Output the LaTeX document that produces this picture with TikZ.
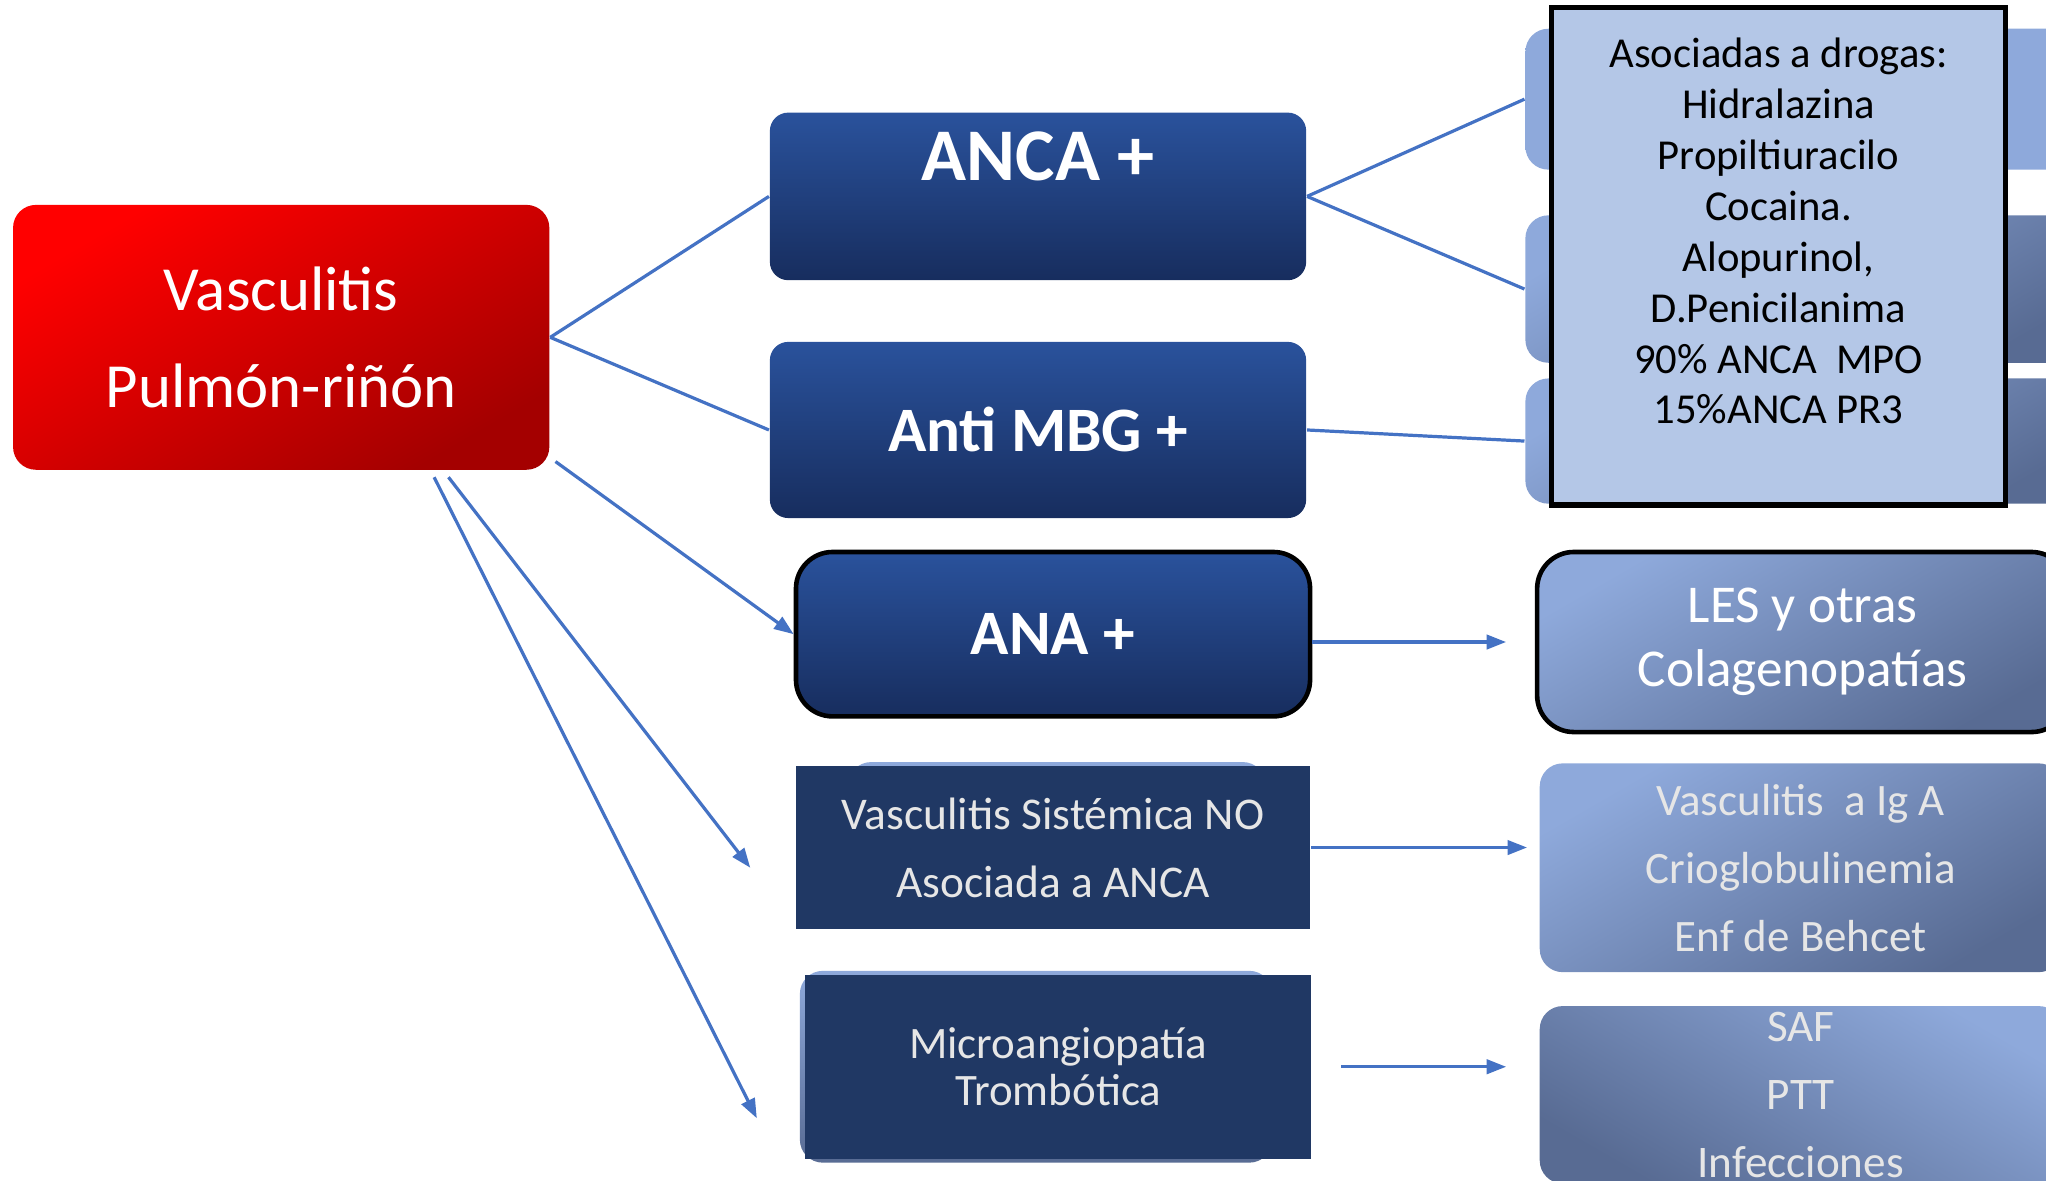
\documentclass[tikz,border=0pt]{standalone}
\usepackage{fontspec}
\setmainfont{Carlito}
\usetikzlibrary{arrows.meta,positioning}

\definecolor{rootred}{HTML}{FF0000}
\definecolor{rootdark}{HTML}{A40000}
\definecolor{antitop}{HTML}{2A529C}
\definecolor{antibot}{HTML}{172D5E}
\definecolor{navy}{HTML}{203864}
\definecolor{paletext}{HTML}{E6E6E6}
\definecolor{ghosttop}{HTML}{8EA9DB}
\definecolor{ghostbot}{HTML}{586B93}
\definecolor{drugfill}{HTML}{B4C7E7}
\definecolor{linkblue}{HTML}{4472C4}

\begin{document}
\begin{tikzpicture}[
  font=\fontsize{9pt}{11pt}\selectfont,
  rootbox/.style={rounded corners=5pt,top color=rootred,bottom color=rootdark,
                  shading angle=30,minimum width=4.11cm,minimum height=2.03cm,
                  align=center,text=white,font=\fontsize{13.7pt}{21.3pt}\selectfont},
  antibox/.style={rounded corners=4pt,top color=antitop,bottom color=antibot,
                  minimum width=4.11cm,align=center,text=white,
                  font=\bfseries\fontsize{13.8pt}{17pt}\selectfont},
  darkbox/.style={fill=navy,minimum width=3.94cm,align=center,text=paletext,
                  font=\fontsize{9.9pt}{14.8pt}\selectfont},
  ghost/.style={rounded corners=5pt,top color=ghosttop,bottom color=ghostbot},
  greybox/.style={rounded corners=5pt,top color=ghosttop,bottom color=ghostbot,
                  shading angle=30,minimum width=4cm,align=center},
  drugbox/.style={draw=black,line width=1.1pt,fill=drugfill,minimum width=3.48cm,
                  minimum height=3.81cm,align=center,text=black,
                  font=\fontsize{9.3pt}{11.1pt}\selectfont},
  link/.style={draw=linkblue,line width=0.7pt},
  arrow/.style={link,-{Triangle[length=1.5mm,width=1.1mm]}}
]
  \useasboundingbox (0,0) rectangle (15.68,-9.05);
  \clip (0,0) rectangle (15.68,-9.05);

  % left: the starting box
  \node[rootbox] (root) at (2.155,-2.585) {Vasculitis\\Pulmón-riñón};

  % middle column
  \node[antibox,font=\bfseries\fontsize{16.2pt}{19pt}\selectfont,
        minimum height=1.27cm,text height=0.4cm,text depth=0.65cm]
    (anca) at (7.955,-1.505) {ANCA +};
  \node[antibox,minimum height=1.35cm] (mbg) at (7.955,-3.295) {Anti MBG +};
  \node[antibox,draw=black,line width=1pt,rounded corners=8pt,
        minimum width=3.94cm,minimum height=1.26cm] (ana) at (8.07,-4.86) {ANA +};

  % pale frames behind the two flat boxes
  \node[ghost,minimum width=3.2cm,minimum height=1.12cm] (vsnoback) at (8.10,-6.40) {};
  \node[darkbox,minimum height=1.25cm] (vsno) at (8.07,-6.495)
    {Vasculitis Sistémica NO\\Asociada a ANCA};
  \node[ghost,minimum width=3.62cm,minimum height=1.47cm] (microback) at (7.94,-8.175) {};
  \node[darkbox,minimum width=3.88cm,minimum height=1.41cm,
        font=\fontsize{9.8pt}{10.4pt}\selectfont] (micro) at (8.11,-8.175)
    {Microangiopatía\\Trombótica};

  % right column: three boxes under the drug list
  \node[greybox,top color=ghosttop,bottom color=ghosttop,
        minimum width=4.31cm,minimum height=1.08cm] (drugA) at (13.845,-0.76) {};
  \node[greybox,minimum width=4.31cm,minimum height=1.13cm] (drugB) at (13.845,-2.215) {};
  \node[greybox,minimum width=4.31cm,minimum height=0.96cm] (drugC) at (13.845,-3.38) {};
  \node[drugbox] (drugs) at (13.63,-1.965)
    {Asociadas a drogas:\\Hidralazina\\Propiltiuracilo\\Cocaina.\\Alopurinol,\\
     D.Penicilanima\\90\% ANCA\ \ MPO\\15\%ANCA PR3\\ \mbox{}};

  \node[greybox,draw=black,line width=1pt,rounded corners=8pt,minimum width=4.07cm,
        minimum height=1.38cm,text=white,font=\fontsize{11.6pt}{13.9pt}\selectfont]
    (les) at (13.815,-4.92) {LES y otras\\Colagenopatías};
  \node[greybox,minimum height=1.6cm,text=paletext,
        font=\fontsize{9.8pt}{14.8pt}\selectfont] (iga) at (13.80,-6.65)
    {Vasculitis\ \ a Ig A\\Crioglobulinemia\\Enf de Behcet};
  \node[greybox,shading angle=-30,minimum height=1.36cm,inner ysep=0pt,text=paletext,
        font=\fontsize{9.85pt}{14.8pt}\selectfont] (saf) at (13.80,-8.39)
    {SAF\\PTT\\Infecciones};

  % connectors
  \coordinate (vsnotip) at (5.75,-6.65);
  \coordinate (microtip) at (5.80,-8.57);
  \draw[link] (root.east) -- (anca.west);
  \draw[link] (root.east) -- (mbg.west);
  \draw[arrow] ([xshift=0.04cm,yshift=0.07cm]root.south east) -- (ana.west);
  \draw[arrow] ([xshift=-0.78cm,yshift=-0.05cm]root.south east) -- (vsnotip);
  \draw[arrow] ([xshift=-0.89cm,yshift=-0.05cm]root.south east) -- (microtip);
  \draw[link] (anca.east) -- (drugA.west);
  \draw[link] (anca.east) -- (drugB.west);
  \draw[link] (mbg.east) -- (drugC.west);
  \draw[arrow,shorten >=0.22cm] (ana.east |- les.west) -- (les.west);
  \draw[arrow,shorten >=0.09cm] (vsno.east) -- (vsno.east -| iga.west);
  \draw[arrow,shorten <=0.22cm,shorten >=0.25cm] (micro.east) -- (micro.east -| saf.west);
\end{tikzpicture}
\end{document}
